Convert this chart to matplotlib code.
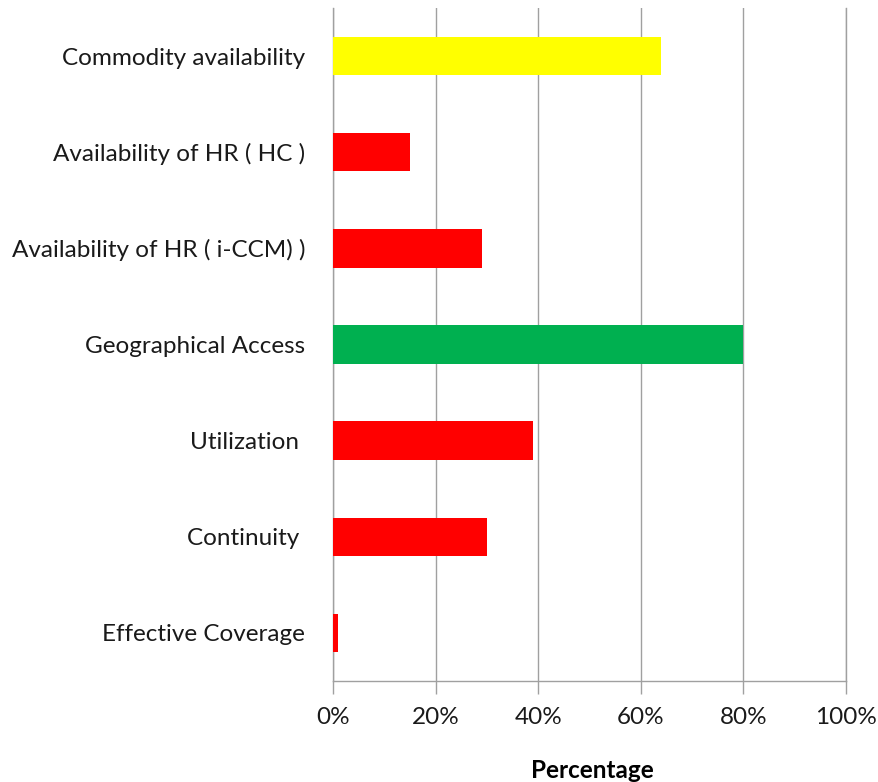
import matplotlib.pyplot as plt
from matplotlib.ticker import PercentFormatter

# Indicator scores (percent), listed top to bottom
indicators = [
    "Commodity availability",
    "Availability of HR ( HC )",
    "Availability of HR ( i-CCM) )",
    "Geographical Access",
    "Utilization ",
    "Continuity ",
    "Effective Coverage",
]
scores = [64, 15, 29, 80, 39, 30, 1]
bar_colors = ["#FFFF00", "#FF0000", "#FF0000", "#00B050", "#FF0000", "#FF0000", "#FF0000"]
x_ticks = [0, 20, 40, 60, 80, 100]

plt.rcParams['font.family'] = ['Lato', 'DejaVu Sans']

fig = plt.figure(figsize=(8.79, 7.82), dpi=100)
ax = fig.add_axes([333 / 879, 1 - 681 / 782, 513 / 879, 673 / 782])

ypos = list(range(len(indicators)))[::-1]
ax.barh(ypos, scores, height=0.4, color=bar_colors, zorder=3)

ax.set_xlim(0, 100)
ax.set_ylim(-0.5, len(indicators) - 0.5)
ax.set_xticks(x_ticks)
ax.xaxis.set_major_formatter(PercentFormatter(decimals=0))
ax.set_yticks(ypos)
ax.set_yticklabels(indicators, fontsize=17.5, color="#1a1a1a")
ax.tick_params(axis='y', length=0, pad=20)
ax.tick_params(axis='x', length=9, width=1, color="#a0a0a0", labelsize=17.5,
               labelcolor="#1a1a1a", pad=10)

ax.grid(axis='x', color="#a0a0a0", linewidth=1, zorder=0)
ax.spines['top'].set_visible(False)
for side in ('left', 'bottom', 'right'):
    ax.spines[side].set_color("#a0a0a0")
    ax.spines[side].set_linewidth(1)

fig.text(592 / 879, 1 - 770 / 782, "Percentage", fontsize=17.5, fontweight='bold',
         ha='center', va='center', color="#000000")

fig.savefig("out.png", dpi=100)
